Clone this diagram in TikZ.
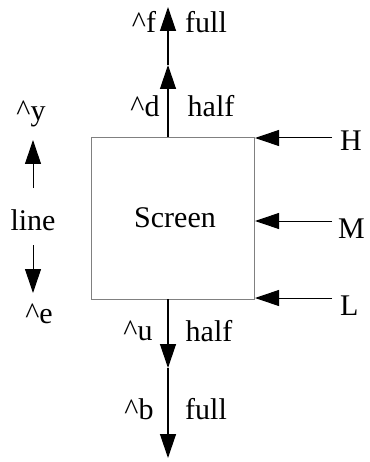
\documentclass[tikz,border=0pt]{standalone}
\usepackage{fontspec}
\setmainfont{Liberation Serif}
\usetikzlibrary{arrows.meta}
\begin{document}
\begin{tikzpicture}[x=1pt,y=-1pt,
  >={Triangle[length=24pt,width=16pt]},
  conn/.style={line width=1.3pt,->},
  lbl/.style={font=\rmfamily\fontsize{30}{30}\selectfont, inner sep=0pt}]
\useasboundingbox (0,0) rectangle (369,462);
\node[draw=gray, line width=1pt, minimum width=163pt, minimum height=162pt, inner sep=0pt, anchor=north west] (screen) at (91,137) {};
\node[lbl] (screentext) at (175,218) {Screen};
% vertical main line
\coordinate (topbase) at (168,137);
\coordinate (topmid) at (168,65);
\coordinate (topend) at (168,7);
\coordinate (botbase) at (168,299);
\coordinate (botmid) at (168,368);
\coordinate (botend) at (168,458);
\draw[conn] (topbase) -- (topmid);
\draw[conn] (topmid) -- (topend);
\draw[conn] (botbase) -- (botmid);
\draw[conn] (botmid) -- (botend);
% labels on vertical line
\node[lbl] (f) at (144,22) {\^{}f};
\node[lbl] (full1) at (206,22) {full};
\node[lbl] (d) at (145,106) {\^{}d};
\node[lbl] (half1) at (211,106) {half};
\node[lbl] (u) at (138,331) {\^{}u};
\node[lbl] (half2) at (209,331) {half};
\node[lbl] (b) at (139,409) {\^{}b};
\node[lbl] (full2) at (206,409) {full};
% left legend
\node[lbl] (y) at (31,114) {\^{}y};
\node[lbl] (line) at (33,220) {line};
\node[lbl] (e) at (39,314) {\^{}e};
\coordinate (upbase) at (33,188);
\coordinate (uptip) at (33,140);
\coordinate (dnbase) at (33,245);
\coordinate (dntip) at (33,293);
\draw[conn, line width=1pt] (upbase) -- (uptip);
\draw[conn, line width=1pt] (dnbase) -- (dntip);
% right inputs
\coordinate (Hs) at (332,138);
\coordinate (Ms) at (332,221);
\coordinate (Ls) at (332,298);
\draw[conn, line width=1pt] (Hs) -- (Hs -| screen.east);
\draw[conn, line width=1pt] (Ms) -- (Ms -| screen.east);
\draw[conn, line width=1pt] (Ls) -- (Ls -| screen.east);
\node[lbl, anchor=west] (H) at (340,141) {H};
\node[lbl, anchor=west] (M) at (338,229) {M};
\node[lbl, anchor=west] (L) at (340,306) {L};
\end{tikzpicture}
\end{document}
